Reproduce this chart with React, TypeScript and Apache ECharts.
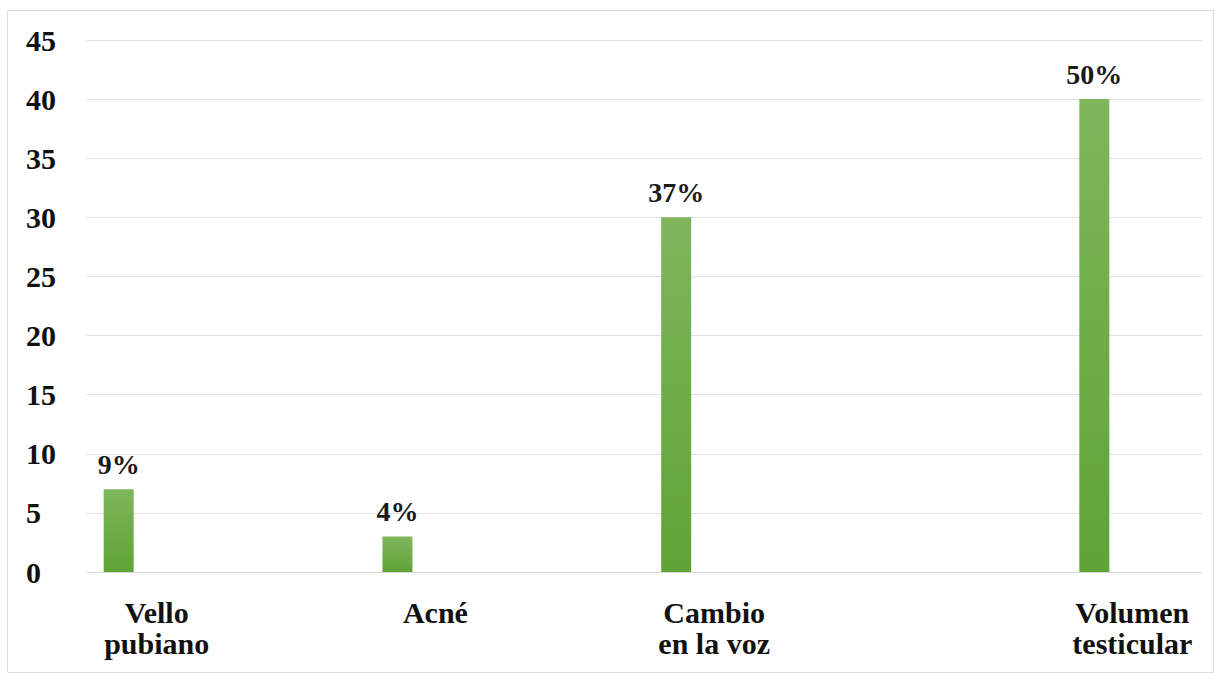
import React, { useEffect, useRef } from "react";
import * as echarts from "echarts";

// ---- data ----
const categories = ["Vello\npubiano", "Acné", "Cambio\nen la voz", "Volumen\ntesticular"];
const counts = [7, 3, 30, 40];
const percentLabels = ["9%", "4%", "37%", "50%"];
const yTicks = { min: 0, max: 45, interval: 5 };

// ---- layout (slot index on an 8-slot category axis) ----
const SLOT_COUNT = 8;
const slots = [0, 2, 4, 7];

const FONT = "'Liberation Serif', 'Times New Roman', serif";

export default function App() {
  const ref = useRef<HTMLDivElement>(null);

  useEffect(() => {
    if (!ref.current) return;
    const chart = echarts.init(ref.current, undefined, { renderer: "svg" });

    const axisData: string[] = Array.from({ length: SLOT_COUNT }, () => "");
    slots.forEach((s, i) => (axisData[s] = categories[i]));
    const barData = counts.map((v, i) => [slots[i], v]);

    chart.setOption({
      animation: false,
      backgroundColor: "#ffffff",
      grid: { left: 87, right: 15, top: 40, bottom: 101, containLabel: false },
      xAxis: {
        type: "category",
        data: axisData,
        boundaryGap: true,
        axisLine: { show: true, lineStyle: { color: "#d9d9d9", width: 1 } },
        axisTick: { show: false },
        axisLabel: {
          interval: 0,
          margin: 25,
          fontFamily: FONT,
          fontWeight: "bold",
          fontSize: 30,
          lineHeight: 31,
          color: "#111111",
        },
        splitLine: { show: false },
      },
      yAxis: {
        type: "value",
        min: yTicks.min,
        max: yTicks.max,
        interval: yTicks.interval,
        axisLine: { show: false },
        axisTick: { show: false },
        axisLabel: {
          align: "left",
          margin: 61,
          fontFamily: FONT,
          fontWeight: "bold",
          fontSize: 30,
          color: "#111111",
        },
        splitLine: { show: true, lineStyle: { color: "#e0e0e0", width: 1 } },
      },
      series: [
        {
          type: "bar",
          name: "Frecuencia",
          data: barData,
          barWidth: 30,
          barGap: "0%",
          itemStyle: {
            color: new echarts.graphic.LinearGradient(0, 0, 0, 1, [
              { offset: 0, color: "#7fb65c" },
              { offset: 1, color: "#60a336" },
            ]),
          },
          label: {
            show: true,
            position: "top",
            distance: 11,
            fontFamily: FONT,
            fontWeight: "bold",
            fontSize: 28,
            color: "#1a1a1a",
            formatter: (p: any) => percentLabels[p.dataIndex],
          },
        },
        {
          type: "bar",
          name: "",
          data: [],
          barWidth: 76,
          barGap: "0%",
          silent: true,
        },
      ],
      graphic: [
        {
          type: "rect",
          shape: { x: 7.5, y: 10.5, width: 1206, height: 662 },
          style: { fill: "none", stroke: "#dcdcdc", lineWidth: 1 },
          silent: true,
          z: -1,
        },
      ],
    });

    return () => chart.dispose();
  }, []);

  return (
    <div
      ref={ref}
      style={{ position: "fixed", left: 0, top: 0, width: 1217, height: 673, background: "#fff" }}
    />
  );
}
